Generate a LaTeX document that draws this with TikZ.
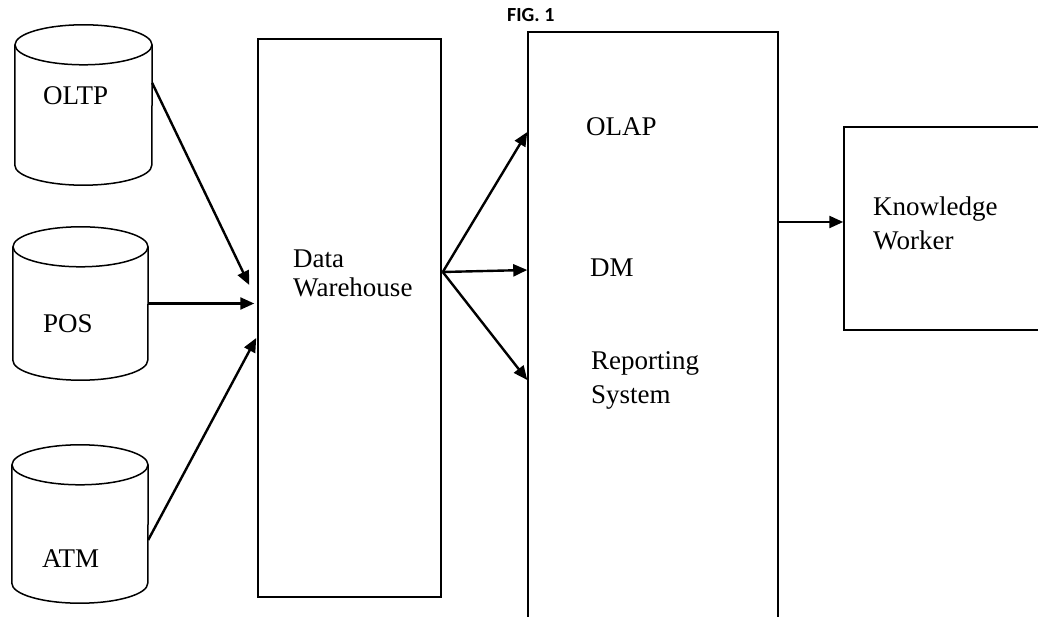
\documentclass[tikz,border=0pt]{standalone}
\usepackage{fontspec}
\setmainfont{Liberation Serif}
\newfontfamily\figfont{Carlito}
\usetikzlibrary{arrows.meta}

\begin{document}
\begin{tikzpicture}[x=1pt,y=-1pt,
  db/.style={rectangle, inner sep=0pt},
  box/.style={draw, line width=1.5pt, rectangle, inner sep=0pt},
  lbl/.style={inner sep=0pt, anchor=base west, align=left, font=\fontsize{27}{32}\selectfont},
  flow/.style={line width=2.4pt, -{Triangle[length=14pt,width=12pt]}}]
  \useasboundingbox (0,0) rectangle (1038,617);
  \node[inner sep=0pt, anchor=base west, font=\figfont\bfseries\fontsize{20}{24}\selectfont] (fig) at (507,22) {FIG. 1};
  % sources
  \node[db, minimum width=137pt, minimum height=160pt] (oltp) at (83.5,105) {};
  \node[db, minimum width=135pt, minimum height=153pt] (pos) at (80.5,303.5) {};
  \node[db, minimum width=136pt, minimum height=158pt] (atm) at (80,524) {};
  \foreach \n/\r in {oltp/68.5, pos/67.5, atm/68}{
    \draw[line width=1.5pt] ([yshift=-20pt]\n.north) ellipse [x radius=\r pt, y radius=20pt];
    \draw[line width=1.5pt] ([yshift=-20pt]\n.north west) -- ([yshift=20pt]\n.south west)
      arc [start angle=180, end angle=360, x radius=\r pt, y radius=20pt] -- ([yshift=-20pt]\n.north east);
  }
  \node[lbl] (oltplbl) at (43,105) {OLTP};
  \node[lbl] (poslbl) at (43,332) {POS};
  \node[lbl] (atmlbl) at (42,567) {ATM};
  % boxes
  \node[box, minimum width=183pt, minimum height=558pt] (dw) at (349.5,318) {};
  \node[box, minimum width=250pt, minimum height=668pt] (olap) at (653,366) {};
  \node[box, minimum width=256pt, minimum height=203pt] (kw) at (972,228.5) {};
  \node[lbl] (dwlbl) at (293,297) {Data\\[-3pt]Warehouse};
  \node[lbl] (olaplbl) at (586,136) {OLAP};
  \node[lbl] (dmlbl) at (590,277) {DM};
  \node[lbl] (replbl) at (591,403) {Reporting\\[2pt]System};
  \node[lbl] (kwlbl) at (873,250) {Knowledge\\[2pt]Worker};
  % arrows
  \draw[flow] ([yshift=22pt]oltp.east) -- ([xshift=-8pt,yshift=33pt]dw.west);
  \draw[flow] (pos.east) -- ([xshift=-3pt,yshift=14.5pt]dw.west);
  \draw[flow] ([yshift=-16pt]atm.east) -- ([xshift=-1pt,yshift=-20pt]dw.west);
  \coordinate (fork) at ([xshift=1pt,yshift=46pt]dw.east);
  \draw[flow] (fork) -- ([yshift=234pt]olap.west);
  \draw[flow] (fork) -- ([yshift=96pt]olap.west);
  \draw[flow] (fork) -- ([yshift=-14pt]olap.west);
  \draw[flow] ([yshift=144pt]olap.east) -- ([yshift=6.5pt]kw.west);
\end{tikzpicture}
\end{document}
